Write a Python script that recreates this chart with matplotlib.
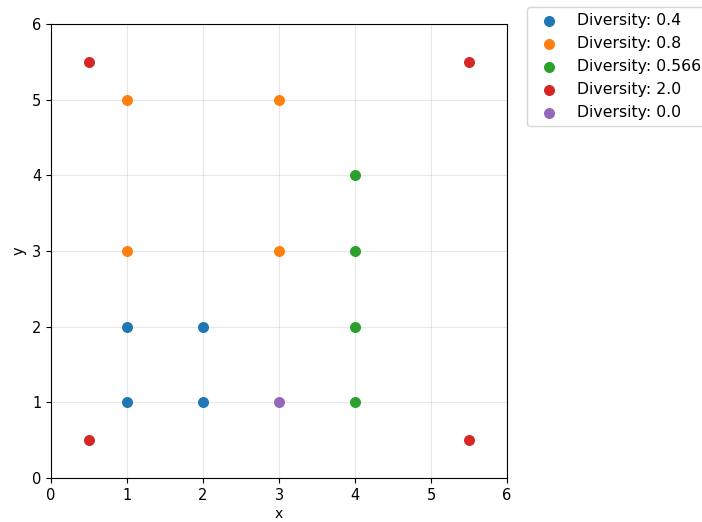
import matplotlib
matplotlib.use("Agg")
from matplotlib import pyplot as plt

# points grouped by diversity value
labels = ["Diversity: 0.4", "Diversity: 0.8", "Diversity: 0.566", "Diversity: 2.0", "Diversity: 0.0"]
xs = [
    [1, 1, 2, 2],
    [1, 1, 3, 3],
    [4, 4, 4, 4],
    [0.5, 0.5, 5.5, 5.5],
    [3],
]
ys = [
    [1, 2, 1, 2],
    [3, 5, 3, 5],
    [1, 2, 3, 4],
    [0.5, 5.5, 0.5, 5.5],
    [1],
]

fig = plt.figure(figsize=(7.02, 5.22), dpi=100)
ax = fig.add_axes([51 / 702, 44 / 522, 456 / 702, 454 / 522])

for x, y, label in zip(xs, ys, labels):
    ax.scatter(x, y, s=48, label=label, zorder=3)

ax.set_xlim(0, 6)
ax.set_ylim(0, 6)
ax.tick_params(labelsize=10.5)
ax.set_xlabel("x", labelpad=3)
ax.set_ylabel("y", fontsize=10.5)
ax.grid(True, alpha=0.3)
ax.legend(loc="upper left", bbox_to_anchor=(1.044, 1.037), borderaxespad=0, fontsize=11.3)

fig.savefig("out.png", dpi=100)
